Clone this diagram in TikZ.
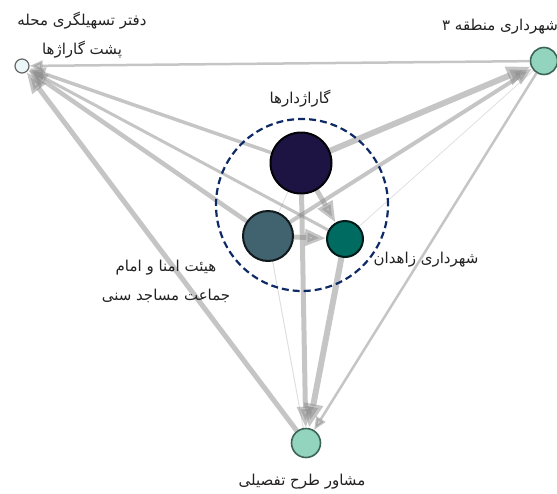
\documentclass[tikz,border=0pt]{standalone}
\usepackage{fontspec}
\newfontfamily\arabicfont[Script=Arabic]{DejaVu Sans}
\TeXXeTstate=1
\usetikzlibrary{arrows.meta,backgrounds}
\definecolor{mint}{HTML}{92D4BE}
\definecolor{mintdraw}{HTML}{3C6455}
\definecolor{navyfill}{HTML}{1D1444}
\definecolor{slatefill}{HTML}{41636F}
\definecolor{tealfill}{HTML}{006B61}
\definecolor{paleblue}{HTML}{EAF6F8}
\definecolor{ringblue}{HTML}{0E2A66}
\definecolor{txt}{HTML}{222222}
\begin{document}
\begin{tikzpicture}[x=1pt,y=-1pt,
  actor/.style={circle, inner sep=0pt, line width=1.6pt},
  lbl/.style={font=\arabicfont\fontsize{15}{29}\selectfont, text=txt, align=center, inner sep=0pt},
  link/.style={draw=black!45, draw opacity=0.5, fill opacity=0.5, line width=#1,
    -{Triangle[length=5pt 3.2, width=5pt 2.2]}},
  faint/.style={draw=black!45, draw opacity=0.28, line width=#1}
]
\useasboundingbox (0,0) rectangle (557,493);

% actors
\node[actor, minimum size=14pt, fill=paleblue, draw=black!60, line width=1.2pt] (L) at (22,66) {};
\node[actor, minimum size=27pt, fill=mint, draw=mintdraw] (R) at (544,61) {};
\node[actor, minimum size=61pt, fill=navyfill, draw=black!90!navyfill, line width=2pt] (G) at (301,163) {};
\node[actor, minimum size=50pt, fill=slatefill, draw=black!75!slatefill, line width=2pt] (H) at (268,236) {};
\node[actor, minimum size=36pt, fill=tealfill, draw=black!75!tealfill, line width=2pt] (Z) at (345,239) {};
\node[actor, minimum size=29pt, fill=mint, draw=mintdraw] (M) at (306,443) {};

% links
\begin{scope}[on background layer]
\draw[link=2.5] (R) -- (L);
\draw[link=3.5] (G) -- (L);
\draw[link=3] (Z) -- (L);
\draw[link=4.5] (H) -- (L);
\draw[link=5] (M) -- (L);
\draw[link=6] (G) -- (R);
\draw[link=4] (H) -- (R);
\draw[faint=0.8] (Z) -- (R);
\draw[link=2.5] (R) -- (M);
\draw[link=5] (G) -- (M);
\draw[link=6] (Z) -- (M);
\draw[faint=1] (H) -- (M);
\draw[link=5] (G) -- (Z);
\draw[link=5] (H) -- (Z);
\draw[faint=0.8] (G) -- (H);
\end{scope}

% group ring
\node[circle, draw=ringblue, line width=2.2pt, dash pattern=on 7pt off 4pt, minimum size=172pt, inner sep=0pt] (ring) at (302,205) {};

% labels
\node[lbl] (tL) at (82,35) {\beginR دفتر تسهیلگری محله\endR\\\beginR پشت گاراژها\endR};
\node[lbl] (tR) at (500,27) {\beginR شهرداری منطقه ۳\endR};
\node[lbl] (tG) at (300,99) {\beginR گاراژدارها\endR};
\node[lbl] (tH) at (166,281) {\beginR هیئت امنا و امام\endR\\\beginR جماعت مساجد سنی\endR};
\node[lbl] (tZ) at (426,260) {\beginR شهرداری زاهدان\endR};
\node[lbl] (tM) at (302,482) {\beginR مشاور طرح تفصیلی\endR};
\end{tikzpicture}
\end{document}
